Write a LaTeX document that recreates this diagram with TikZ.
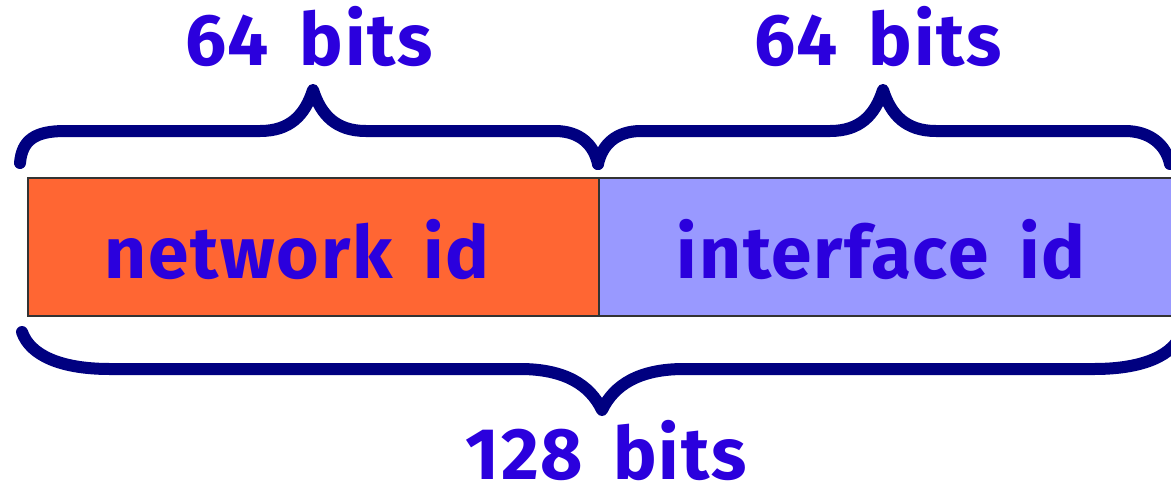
\documentclass[tikz,border=0pt]{standalone}
\usepackage{fontspec}
\setmainfont{Fira Sans}
\newfontfamily\labelfont{Fira Sans}[WordSpace=1.6, LetterSpace=2.5]
\definecolor{netorange}{HTML}{FF6633}
\definecolor{ifaceblue}{HTML}{9999FF}
\definecolor{labelblue}{HTML}{2B00DD}
\definecolor{bracenavy}{HTML}{000080}
\definecolor{edgegray}{HTML}{333333}
\tikzset{
  field/.style={draw=edgegray, line width=1.8pt, minimum height=138pt, inner sep=0pt},
  fieldtext/.style={text=labelblue, inner sep=0pt, font=\labelfont\bfseries\fontsize{73}{80}\selectfont},
  bitlabel/.style={text=labelblue, inner sep=0pt, font=\labelfont\bfseries\fontsize{73}{80}\selectfont, anchor=center},
  bracepath/.style={draw=bracenavy, line width=12pt, line cap=round, line join=round}
}
\begin{document}
\begin{tikzpicture}[x=1pt,y=-1pt]
\useasboundingbox (0,0) rectangle (1171,491);
\clip (0,0) rectangle (1171,491);

% the two address fields
\node[field, fill=netorange, minimum width=571pt, anchor=north west] (net) at (27,177) {};
\node[field, fill=ifaceblue, minimum width=600pt, anchor=north west] (iface) at (598,177) {};
\node[fieldtext] (netlbl) at (297,250) {network id};
\node[fieldtext] (ifacelbl) at (881,250) {interface id};

% brace over the network part
\coordinate (b1s) at (20,163);
\coordinate (b1m) at (313,90);
\coordinate (b1e) at (598,164);
\draw[bracepath] (b1s) .. controls (22,140) and (35,131) .. (65,131)
  -- (260,131) .. controls (290,131) and (305,115) .. (b1m)
  .. controls (321,115) and (336,131) .. (366,131)
  -- (555,131) .. controls (580,131) and (594,145) .. (b1e);

% brace over the interface part
\coordinate (b2m) at (883,90);
\coordinate (b2e) at (1170,164);
\draw[bracepath] (b1e) .. controls (602,145) and (616,131) .. (641,131)
  -- (830,131) .. controls (860,131) and (875,115) .. (b2m)
  .. controls (891,115) and (906,131) .. (936,131)
  -- (1125,131) .. controls (1150,131) and (1166,145) .. (b2e);

% brace under the whole address
\coordinate (b3s) at (22,332);
\coordinate (b3m) at (602,410);
\coordinate (b3e) at (1182,332);
\draw[bracepath] (b3s) .. controls (30,355) and (60,369) .. (110,369)
  -- (520,369) .. controls (565,369) and (590,385) .. (b3m)
  .. controls (614,385) and (639,369) .. (684,369)
  -- (1094,369) .. controls (1144,369) and (1174,355) .. (b3e);

% width labels
\node[bitlabel] (top1) at (309,37) {64 bits};
\node[bitlabel] (top2) at (878,37) {64 bits};
\node[bitlabel] (total) at (606,451) {128 bits};
\end{tikzpicture}
\end{document}
